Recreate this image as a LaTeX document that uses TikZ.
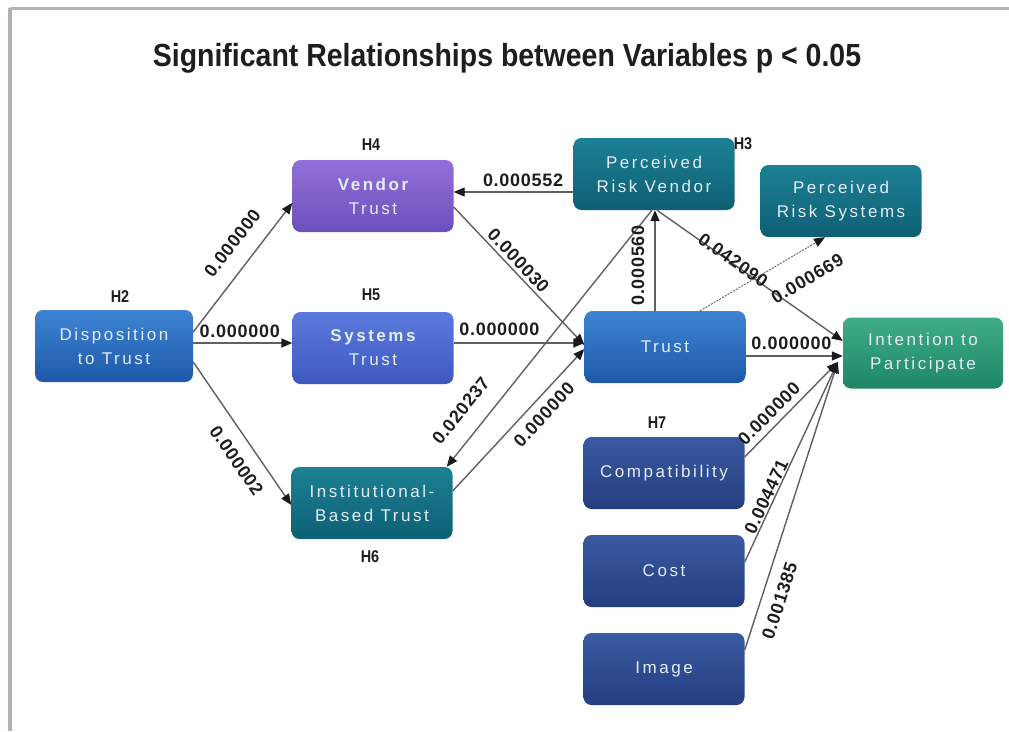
\documentclass[tikz,border=0pt]{standalone}
\usepackage{fontspec}
\setmainfont{Liberation Sans}
\newfontfamily\boxfont[LetterSpace=15]{Liberation Sans}
\newfontfamily\labfont[LetterSpace=4]{Liberation Sans}
\newfontfamily\titlefont[FakeStretch=0.89]{Liberation Sans}
\newfontfamily\hypfont[FakeStretch=0.85]{Liberation Sans}
\usetikzlibrary{arrows.meta}

\definecolor{boxtext}{RGB}{228,236,246}
\definecolor{linegray}{RGB}{95,95,100}
\definecolor{tipcol}{RGB}{25,25,30}
\definecolor{labcol}{RGB}{30,30,30}
\definecolor{framegray}{RGB}{175,178,185}

\tikzset{
  box/.style={rounded corners=8pt, minimum width=161pt, minimum height=72pt,
    inner sep=0pt, align=center, text=boxtext,
    font=\boxfont\fontsize{17}{24}\selectfont},
  bluebox/.style={box, top color={rgb,255:red,62;green,132;blue,212}, bottom color={rgb,255:red,30;green,88;blue,168}},
  purplebox/.style={box, top color={rgb,255:red,145;green,112;blue,218}, bottom color={rgb,255:red,108;green,80;blue,188}},
  indigobox/.style={box, top color={rgb,255:red,92;green,122;blue,222}, bottom color={rgb,255:red,62;green,88;blue,192}},
  tealbox/.style={box, top color={rgb,255:red,28;green,128;blue,148}, bottom color={rgb,255:red,14;green,96;blue,116}},
  greenbox/.style={box, top color={rgb,255:red,64;green,172;blue,134}, bottom color={rgb,255:red,30;green,134;blue,102}},
  navybox/.style={box, top color={rgb,255:red,58;green,90;blue,162}, bottom color={rgb,255:red,36;green,62;blue,128}},
  edge/.style={draw=linegray, line width=1.4pt, -{Triangle[length=11pt,width=9pt,color=tipcol]}},
  thinedge/.style={edge, line width=0.9pt, dash pattern=on 2pt off 1.2pt},
  lab/.style={font=\labfont\bfseries\fontsize{18}{18}\selectfont, text=labcol, inner sep=0pt, sloped},
  hyp/.style={font=\hypfont\bfseries\fontsize{17}{17}\selectfont, text=labcol, inner sep=0pt},
}

\begin{document}
\begin{tikzpicture}[x=1pt,y=-1pt]
  \useasboundingbox (0,0) rectangle (1009,731);
  \fill[white] (0,0) rectangle (1009,731);

  % window frame
  \draw[framegray, line width=3pt] (10,8) -- (1009,8);
  \draw[framegray, line width=4pt] (10,8) -- (10,731);

  % title
  \node[font=\titlefont\bfseries\fontsize{32}{32}\selectfont, text=labcol] (title) at (507,58)
    {Significant Relationships between Variables p < 0.05};

  % variables
  \node[bluebox, minimum width=158pt] (disp) at (114,346) {Disposition\\to Trust};
  \node[purplebox] (vendor) at (373,196) {\bfseries Vendor\\Trust};
  \node[indigobox] (systems) at (373,348) {\bfseries Systems\\Trust};
  \node[tealbox] (inst) at (372,503) {Institutional-\\Based Trust};
  \node[tealbox] (prv) at (654,174) {Perceived\\Risk Vendor};
  \node[tealbox] (prs) at (841,201) {Perceived\\Risk Systems};
  \node[bluebox] (trust) at (665,347) {Trust};
  \node[greenbox, minimum width=160pt, minimum height=71pt] (intent) at (923,353) {Intention to\\Participate};
  \node[navybox] (compat) at (664,473) {Compatibility};
  \node[navybox] (cost) at (664,571) {Cost};
  \node[navybox] (image) at (664,669) {Image};

  % hypothesis tags
  \node[hyp] (h2) at (120,297) {H2};
  \node[hyp] (h4) at (371,145) {H4};
  \node[hyp] (h5) at (371,295) {H5};
  \node[hyp] (h6) at (370,557) {H6};
  \node[hyp] (h3) at (743,144) {H3};
  \node[hyp] (h7) at (657,423) {H7};

  % meeting point of the H7 paths
  \coordinate (conv) at ([xshift=-5pt,yshift=-9pt]intent.west);

  % relationships
  \draw[edge] ([yshift=14pt]disp.east) -- node[lab, pos=0.58, above=16pt] {0.000000} ([yshift=-7pt]vendor.west);
  \draw[edge] ([yshift=3pt]disp.east) -- node[lab, pos=0.47, above=5pt] {0.000000} ([yshift=5pt]systems.west);
  \draw[edge] ([yshift=-16pt]disp.east) -- node[lab, pos=0.61, below=13pt] {0.000002} ([yshift=-2pt]inst.west);
  \draw[edge] ([yshift=-18pt]prv.west) -- node[lab, pos=0.42, above=5pt] {0.000552} ([yshift=4pt]vendor.east);
  \draw[edge] ([yshift=-11pt]vendor.east) -- node[lab, pos=0.44, above=3pt] {0.000030} ([yshift=2pt]trust.west);
  \draw[edge] ([yshift=5pt]systems.east) -- node[lab, pos=0.35, above=7pt] {0.000000} ([yshift=4pt]trust.west);
  \draw[edge] ([yshift=12pt]inst.east) -- node[lab, pos=0.61, below=8pt] {0.000000} ([yshift=-2pt]trust.west);
  \draw[edge] ([xshift=-2pt]prv.south) -- node[lab, pos=0.84, above=17pt] {0.020237} ([xshift=-6pt]inst.north east);
  \draw[edge] ([xshift=-10pt]trust.north) -- node[lab, pos=0.45, above=10pt] {0.000560} ([xshift=1pt]prv.south);
  \draw[edge] ([xshift=3pt]prv.south) -- node[lab, pos=0.40, above=-4pt] {0.042090} ([yshift=12pt]intent.west);
  \draw[thinedge] ([xshift=35pt]trust.north) -- node[lab, pos=0.75, below=20pt] {0.000669} ([xshift=-16pt]prs.south);
  \draw[edge] ([yshift=-9pt]trust.east) -- node[lab, pos=0.47, above=6pt] {0.000000} ([yshift=-3pt]intent.west);
  \draw[edge] ([yshift=16pt]compat.east) -- node[lab, pos=0.36, above=6pt] {0.000000} (conv);
  \draw[edge] ([yshift=9pt]cost.east) -- node[lab, pos=0.31, above=1pt] {0.004471} (conv);
  \draw[edge] ([yshift=19pt]image.east) -- node[lab, pos=0.19, below=11pt] {0.001385} (conv);
\end{tikzpicture}
\end{document}
